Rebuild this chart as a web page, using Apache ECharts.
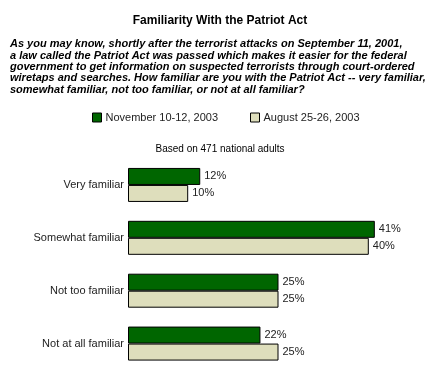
<!DOCTYPE html>
<html>
<head>
<meta charset="utf-8">
<script src="https://cdn.jsdelivr.net/npm/echarts@6/dist/echarts.min.js"></script>
<style>
html,body{margin:0;padding:0;background:#fff;}
#chart{width:440px;height:370px;}
</style>
</head>
<body>
<div id="chart"></div>
<script>
const categories = ['Very familiar', 'Somewhat familiar', 'Not too familiar', 'Not at all familiar'];
const seriesNames = ['November 10-12, 2003', 'August 25-26, 2003'];
const nov2003 = [12, 41, 25, 22];
const aug2003 = [10, 40, 25, 25];
const titleText = 'Familiarity With the Patriot Act';
const questionLines = [
  'As you may know, shortly after the terrorist attacks on September 11, 2001,',
  'a law called the Patriot Act was passed which makes it easier for the federal',
  'government to get information on suspected terrorists through court-ordered',
  'wiretaps and searches. How familiar are you with the Patriot Act -- very familiar,',
  'somewhat familiar, not too familiar, or not at all familiar?'
];
const baseNote = 'Based on 471 national adults';

const FONT = '"Liberation Sans", Arial, sans-serif';
const chart = echarts.init(document.getElementById('chart'), null, {renderer: 'canvas'});

const barLabel = {
  show: true, position: 'right', distance: 4,
  formatter: '{c}%', fontFamily: FONT, fontSize: 11, color: '#222'
};

chart.setOption({
  animation: false,
  backgroundColor: '#fff',
  textStyle: {fontFamily: FONT},
  title: [{
    text: titleText, left: 'center', top: 10,
    textStyle: {fontFamily: FONT, fontSize: 12, fontWeight: 'bold', color: '#000'}
  }, {
    text: baseNote, left: 'center', top: 139,
    textStyle: {fontFamily: FONT, fontSize: 10, fontWeight: 'normal', color: '#000'}
  }],
  graphic: [{
    type: 'text', left: 10, top: 38.5,
    style: {
      text: questionLines.join('\n'),
      fontFamily: FONT, fontSize: 11, fontWeight: 'bold', fontStyle: 'italic',
      lineHeight: 11.4, fill: '#000'
    }
  }],
  legend: [{
    data: [seriesNames[0]], left: 92, top: 112, padding: 0, icon: 'rect',
    itemWidth: 9, itemHeight: 9, itemGap: 0,
    itemStyle: {borderWidth: 1, borderColor: '#000'},
    textStyle: {fontFamily: FONT, fontSize: 11, color: '#222', padding: [0, 0, 0, -1]}
  }, {
    data: [seriesNames[1]], left: 250, top: 112, padding: 0, icon: 'rect',
    itemWidth: 9, itemHeight: 9, itemGap: 0,
    itemStyle: {borderWidth: 1, borderColor: '#000'},
    textStyle: {fontFamily: FONT, fontSize: 11, color: '#222', padding: [0, 0, 0, -1]}
  }],
  grid: {left: 128, top: 158.5, height: 216.4, width: 301, containLabel: false},
  xAxis: {
    type: 'value', min: 0, max: 50, show: false
  },
  yAxis: {
    type: 'category', data: categories, inverse: true,
    axisLine: {show: false}, axisTick: {show: false}, splitLine: {show: false},
    axisLabel: {fontFamily: FONT, fontSize: 11, color: '#222', margin: 4}
  },
  series: [{
    name: seriesNames[0], type: 'bar', data: nov2003,
    barWidth: 17, barGap: '0%',
    itemStyle: {color: '#006600', borderColor: '#000', borderWidth: 1},
    label: barLabel
  }, {
    name: seriesNames[1], type: 'bar', data: aug2003,
    barWidth: 17, barGap: '0%',
    itemStyle: {color: '#DEDEBC', borderColor: '#000', borderWidth: 1},
    label: barLabel
  }]
});
</script>
</body>
</html>
